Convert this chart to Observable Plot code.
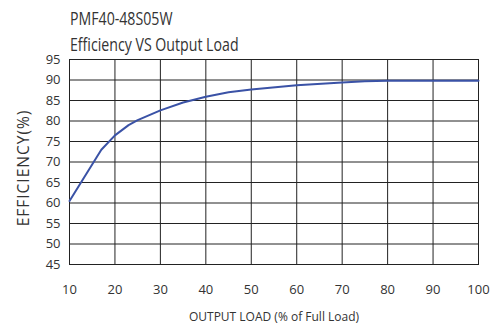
<!DOCTYPE html>
<html>
<head>
<meta charset="utf-8">
<script src="https://cdn.jsdelivr.net/npm/d3@7"></script>
<script src="https://cdn.jsdelivr.net/npm/@observablehq/plot@0.6"></script>
<style>
  html, body { margin: 0; padding: 0; background: #fff; }
  #wrap { position: relative; width: 494px; height: 329px; overflow: hidden; }
  .t { position: absolute; left: 70px; font-family: "Open Sans", sans-serif; font-size: 17.7px; color: #333; white-space: nowrap; transform-origin: left top; transform: scaleX(0.8); line-height: 1; }
  #chart { position: absolute; left: 0; top: 0; }
</style>
</head>
<body>
<div id="wrap">
  <div id="chart"></div>
  <div class="t" id="t1" style="top:10px">PMF40-48S05W</div>
  <div class="t" id="t2" style="top:35.5px">Efficiency VS Output Load</div>
</div>
<script>
const title = "PMF40-48S05W";
const subtitle = "Efficiency VS Output Load";
const xLabel = "OUTPUT LOAD (% of Full Load)";
const yLabel = "EFFICIENCY(%)";
const loads = [10, 17, 20, 23, 25, 30, 35, 40, 45, 50, 60, 70, 75, 80, 90, 100];
const efficiency = [60.5, 73, 76.5, 79, 80.2, 82.6, 84.5, 85.9, 87, 87.7, 88.7, 89.4, 89.7, 89.8, 89.8, 89.8];
const xTicks = [10, 20, 30, 40, 50, 60, 70, 80, 90, 100];
const yTicks = [45, 50, 55, 60, 65, 70, 75, 80, 85, 90, 95];

const data = loads.map((x, i) => ({x, y: efficiency[i]}));

const chart = Plot.plot({
  width: 494,
  height: 329,
  marginLeft: 69,
  marginRight: 16,
  marginTop: 59,
  marginBottom: 65,
  style: {fontFamily: "'Open Sans', sans-serif", fontSize: "13px", color: "#333", background: "#fff"},
  x: {domain: [10, 100], ticks: xTicks, tickSize: 0, tickPadding: 20, label: null},
  y: {domain: [45, 95], ticks: yTicks, tickSize: 0, tickPadding: 9, label: null},
  marks: [
    Plot.gridX(xTicks, {stroke: "#222", strokeOpacity: 1, strokeWidth: 1}),
    Plot.gridY(yTicks, {stroke: "#222", strokeOpacity: 1, strokeWidth: 1}),
    Plot.frame({stroke: "#222", strokeWidth: 1}),
    Plot.line(data, {x: "x", y: "y", stroke: "#3a52a6", strokeWidth: 2}),
    Plot.axisX(xTicks, {tickSize: 0, tickPadding: 20, label: null, fontSize: 13}),
    Plot.axisY(yTicks, {tickSize: 0, tickPadding: 9, label: null, fontSize: 13}),
    Plot.text([xLabel], {frameAnchor: "bottom", dy: 56, fontSize: 12, fill: "#333"}),
    Plot.text([yLabel], {frameAnchor: "left", textAnchor: "middle", dx: -45, dy: 6, rotate: -90, fontSize: 15.5, fill: "#333", className: "ylab"})
  ]
});
document.getElementById("chart").appendChild(chart);
d3.select(chart).selectAll(".ylab text").attr("letter-spacing", "1px");
document.getElementById("t1").textContent = title;
document.getElementById("t2").textContent = subtitle;
</script>
</body>
</html>
